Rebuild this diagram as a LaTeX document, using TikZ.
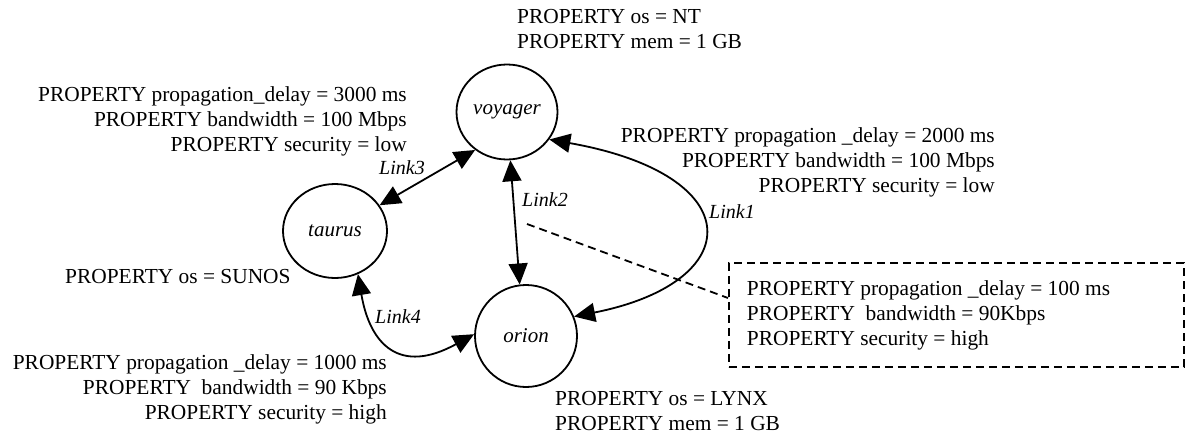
\documentclass[tikz,border=0pt]{standalone}
\usepackage{fontspec}
\setmainfont{Liberation Serif}
\usetikzlibrary{shapes.geometric,arrows.meta}
\tikzset{
  host/.style={ellipse, draw, line width=1.8pt, inner sep=0pt, font=\fontsize{21}{24}\selectfont\itshape},
  prop/.style={inner sep=0pt, font=\fontsize{21.4}{25}\selectfont},
  linklbl/.style={inner sep=0pt, font=\fontsize{20}{24}\selectfont\itshape},
  link/.style={line width=1.8pt, {Triangle[length=21pt,width=19pt]}-{Triangle[length=21pt,width=19pt]}},
  dashline/.style={line width=1.8pt, dash pattern=on 8pt off 5pt},
}
\begin{document}
\begin{tikzpicture}[x=1pt,y=-1pt]
\useasboundingbox[fill=white] (0,0) rectangle (1189,442);
% hosts
\node[host, minimum width=101pt, minimum height=95pt] (voyager) at (507,112) {voyager};
\node[host, minimum width=104pt, minimum height=94pt] (taurus) at (335,231) {taurus};
\node[host, minimum width=102pt, minimum height=102pt] (orion) at (526,336) {orion};
% host properties
\node[prop, anchor=north west, align=left] (pv) at (517,9.5) {PROPERTY os = NT\\PROPERTY mem = 1 GB};
\node[prop, anchor=north west] (pt) at (65,269.5) {PROPERTY os = SUNOS};
\node[prop, anchor=north west, align=left] (po) at (555,391.5) {PROPERTY os = LYNX\\PROPERTY mem = 1 GB};
% link properties
\node[prop, anchor=north east, align=right] (p3) at (407,86.5) {PROPERTY propagation\_delay = 3000 ms\\PROPERTY bandwidth = 100 Mbps\\PROPERTY security = low};
\node[prop, anchor=north east, align=right] (p1) at (995,127.5) {PROPERTY propagation \_delay = 2000 ms\\PROPERTY bandwidth = 100 Mbps\\PROPERTY security = low};
\node[prop, anchor=north east, align=right] (p4) at (387,354.5) {PROPERTY propagation \_delay = 1000 ms\\PROPERTY\ \ bandwidth = 90 Kbps\\PROPERTY security = high};
\node[prop, draw, dashline, anchor=north west, minimum height=104pt, text width=419pt, inner xsep=18pt, align=flush left] (box) at (728,262) {PROPERTY propagation \_delay = 100 ms\\PROPERTY\ \ bandwidth = 90Kbps\\PROPERTY security = high};
% links
\draw[link] (voyager.-33) .. controls (750,175) and (748,282) .. (orion.22);
\draw[link] (voyager.-86) -- (orion.97);
\draw[link] (taurus.30) -- (voyager.-130);
\draw[link] (taurus.-62) .. controls (370,345) and (400,375) .. (orion.178);
% link labels
\node[linklbl] (l1) at (732,212) {Link1};
\node[linklbl] (l2) at (545,200) {Link2};
\node[linklbl] (l3) at (402,168) {Link3};
\node[linklbl] (l4) at (398,317) {Link4};
% dashed annotation connector
\coordinate (dstart) at (527,224);
\draw[dashline] (dstart) -- ([yshift=-36pt]box.north west);
\end{tikzpicture}
\end{document}
